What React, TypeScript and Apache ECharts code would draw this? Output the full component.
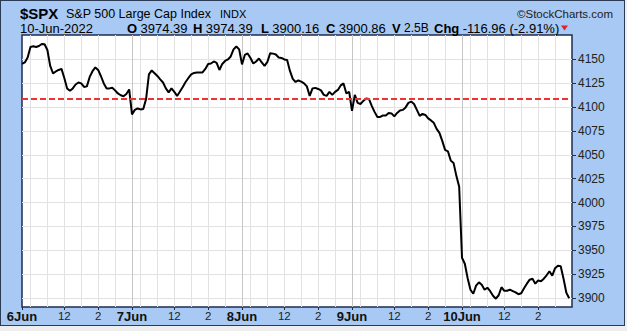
import React, { useEffect, useRef } from "react";
import * as echarts from "echarts";

// ---- data (10-minute closes) ----
const days = ["6Jun", "7Jun", "8Jun", "9Jun", "10Jun"];

const jun6 = [4145.2, 4146.8, 4152.0, 4163.0, 4163.7, 4163.0, 4164.0, 4166.1, 4165.8, 4159.8, 4143.1, 4135.3, 4137.3, 4138.9, 4140.0, 4130.5, 4119.6, 4117.0, 4119.6, 4123.7, 4125.8, 4124.8, 4121.1, 4121.7, 4131.6, 4137.6, 4141.5, 4138.9, 4132.3, 4124.8, 4119.6, 4119.6, 4120.3, 4117.5, 4114.3, 4112.4, 4111.4, 4113.8, 4118.5];
const jun7 = [4092.4, 4097.1, 4098.6, 4097.6, 4098.1, 4108.6, 4134.2, 4138.4, 4135.5, 4132.6, 4129.0, 4125.8, 4119.6, 4115.4, 4119.6, 4115.9, 4111.7, 4116.4, 4121.1, 4126.3, 4130.5, 4134.2, 4135.8, 4136.3, 4136.3, 4136.3, 4140.0, 4145.2, 4145.7, 4147.8, 4146.2, 4138.9, 4145.2, 4148.3, 4149.9, 4153.0, 4160.4, 4163.5, 4160.4];
const jun8 = [4144.7, 4154.6, 4156.2, 4151.5, 4145.7, 4147.8, 4150.9, 4146.8, 4143.1, 4147.3, 4156.5, 4156.0, 4155.1, 4152.0, 4151.5, 4149.9, 4149.4, 4137.9, 4129.5, 4126.3, 4127.9, 4126.7, 4124.8, 4121.7, 4111.7, 4119.6, 4120.1, 4119.0, 4117.5, 4112.8, 4111.7, 4115.9, 4112.8, 4115.9, 4118.0, 4122.7, 4124.8, 4114.3, 4115.9];
const jun9 = [4096.0, 4112.8, 4104.4, 4103.3, 4106.5, 4109.1, 4108.6, 4101.3, 4095.0, 4089.7, 4089.7, 4091.3, 4091.3, 4093.9, 4093.4, 4090.3, 4093.9, 4096.5, 4097.1, 4099.7, 4104.4, 4105.8, 4103.3, 4097.1, 4090.8, 4092.9, 4091.8, 4088.2, 4086.1, 4083.5, 4077.2, 4073.0, 4064.6, 4055.2, 4053.7, 4044.2, 4041.6, 4028.0, 4016.5];
const jun10 = [3942.3, 3936.0, 3920.9, 3908.8, 3904.6, 3913.0, 3916.6, 3914.0, 3908.8, 3910.9, 3907.2, 3902.5, 3899.4, 3903.0, 3911.4, 3907.7, 3907.7, 3908.8, 3907.4, 3906.0, 3904.1, 3905.1, 3910.4, 3915.1, 3919.3, 3920.3, 3915.1, 3918.5, 3917.7, 3920.3, 3923.9, 3928.1, 3923.5, 3931.3, 3933.9, 3933.4, 3920.3, 3905.6, 3899.9];

const yTicks = [3900, 3925, 3950, 3975, 4000, 4025, 4050, 4075, 4100, 4125, 4150];
const prevClose = 4108.54;

const symbol = "$SPX";
const titleName = "S&P 500 Large Cap Index";
const exchange = "INDX";
const credit = "\u00A9StockCharts.com";
const dateText = "10-Jun-2022";
const quote = [
  { k: "O", v: "3974.39", x: 127, size: 13 },
  { k: "H", v: "3974.39", x: 193, size: 13 },
  { k: "L", v: "3900.16", x: 261, size: 13 },
  { k: "C", v: "3900.86", x: 326, size: 13 },
  { k: "V", v: "2.5B", x: 392, size: 12 },
  { k: "Chg", v: "-116.96 (-2.91%)", x: 434, size: 13 },
];

const FONT = '"Liberation Sans", Arial, sans-serif';

function pad(n: number) {
  return n < 10 ? "0" + n : "" + n;
}

// categories: one per 10-minute bar, 9:30 .. 15:50 each day, plus final 16:00
const categories: string[] = [];
days.forEach((d) => {
  for (let k = 0; k < 39; k++) {
    const m = 570 + 10 * k;
    categories.push(d + " " + pad(Math.floor(m / 60)) + ":" + pad(m % 60));
  }
});
categories.push(days[days.length - 1] + " 16:00");

const values: (number | null)[] = [...jun6, ...jun7, ...jun8, ...jun9, ...jun10, null];

function timeOf(v: string) {
  return v.split(" ")[1];
}

export default function App() {
  const ref = useRef<HTMLDivElement>(null);

  useEffect(() => {
    document.body.style.margin = "0";
    if (!ref.current) return;
    const chart = echarts.init(ref.current, null, { renderer: "svg" });

    const labelInterval = (i: number, v: string) => {
      if (i === categories.length - 1) return false;
      const t = timeOf(v);
      return t === "09:30" || t === "12:00" || t === "14:00";
    };
    const hourInterval = (i: number, v: string) => {
      const t = timeOf(v);
      return ["10:00", "11:00", "12:00", "13:00", "14:00", "15:00"].indexOf(t) >= 0;
    };
    const dayInterval = (i: number, v: string) => {
      return i > 0 && i < categories.length - 1 && timeOf(v) === "09:30";
    };

    const wCh = (s: string, size: number) => {
      const w: Record<string, number> = { O: 0.778, H: 0.722, L: 0.611, C: 0.722, V: 0.667, h: 0.611, g: 0.611 };
      let t = 0;
      for (const c of s) t += w[c] || 0.6;
      return t * size;
    };

    const graphic: any[] = [
      { type: "text", x: 20, y: 13, style: { text: symbol, font: "bold 15px " + FONT, fill: "#000", verticalAlign: "middle" } },
      { type: "text", x: 66, y: 14, style: { text: titleName, font: "12.5px " + FONT, fill: "#000", verticalAlign: "middle" } },
      { type: "text", x: 220, y: 14, style: { text: exchange, font: "11px " + FONT, fill: "#000", verticalAlign: "middle" } },
      { type: "text", x: 517, y: 14, style: { text: credit, font: "11.5px " + FONT, fill: "#222", verticalAlign: "middle" } },
      { type: "text", x: 20, y: 28, style: { text: dateText, font: "13px " + FONT, fill: "#000", verticalAlign: "middle" } },
      { type: "polygon", shape: { points: [[561, 25.5], [568, 25.5], [564.5, 30.5]] }, style: { fill: "#e0202a" } },
    ];
    quote.forEach((q) => {
      graphic.push({ type: "text", x: q.x, y: 28, style: { text: q.k, font: "bold 13px " + FONT, fill: "#000", verticalAlign: "middle" } });
      graphic.push({ type: "text", x: q.x + wCh(q.k, 13) + 3.4, y: 28, style: { text: q.v, font: q.size + "px " + FONT, fill: "#000", verticalAlign: "middle" } });
    });

    const option: any = {
      animation: false,
      grid: {
        left: 22,
        right: 55,
        top: 35,
        bottom: 24,
        show: true,
        backgroundColor: "#ffffff",
        borderColor: "#1d2d52",
        borderWidth: 1.5,
      },
      xAxis: [
        {
          type: "category",
          data: categories,
          boundaryGap: false,
          position: "bottom",
          axisLine: { show: false },
          axisTick: { show: true, length: 3, interval: labelInterval, lineStyle: { color: "#1d2d52" } },
          axisLabel: {
            interval: labelInterval,
            margin: 3,
            formatter: (v: string) => {
              const [d, t] = v.split(" ");
              if (t === "09:30") return "{d|" + d + "}";
              if (t === "12:00") return "{h|12}";
              if (t === "14:00") return "{h|2}";
              return "";
            },
            rich: {
              d: { fontFamily: FONT, fontWeight: "bold", fontSize: 13, color: "#111" },
              h: { fontFamily: FONT, fontSize: 11.5, color: "#222" },
            },
          },
          splitLine: { show: true, interval: hourInterval, lineStyle: { color: "#e2e2e2", width: 1 } },
        },
        {
          type: "category",
          data: categories,
          boundaryGap: false,
          position: "top",
          axisLine: { show: false },
          axisTick: { show: false },
          axisLabel: { show: false },
          splitLine: { show: true, interval: dayInterval, lineStyle: { color: "#c6c6c6", width: 1 } },
        },
      ],
      yAxis: {
        type: "value",
        position: "right",
        min: 3890.7,
        max: 4175.5,
        axisLine: { show: false },
        axisTick: { show: true, length: 4, customValues: yTicks, lineStyle: { color: "#1d2d52" } },
        axisLabel: {
          customValues: yTicks,
          margin: 6,
          fontSize: 12,
          fontFamily: FONT,
          color: "#222",
          formatter: (v: number) => String(v),
        },
        splitLine: { show: true, lineStyle: { color: "#e2e2e2", width: 1 } },
      },
      series: [
        {
          type: "line",
          data: values,
          xAxisIndex: 0,
          symbol: "none",
          connectNulls: false,
          lineStyle: { color: "#000", width: 2 },
          markLine: {
            silent: true,
            symbol: ["none", "none"],
            label: { show: false },
            lineStyle: { color: "#ec3434", type: [6, 3], width: 2 },
            data: [{ yAxis: prevClose }],
          },
        },
      ],
      graphic,
    };
    chart.setOption(option);
    return () => chart.dispose();
  }, []);

  return (
    <div style={{ position: "relative", width: 627, height: 331, background: "#eeeeee" }}>
      <div
        style={{
          position: "absolute",
          left: 0,
          top: 0,
          width: 625,
          height: 326,
          boxSizing: "border-box",
          border: "1.5px solid #2b3a55",
          background: "#a8c9f3",
        }}
      />
      <div ref={ref} style={{ position: "absolute", left: 0, top: 0, width: 627, height: 331 }} />
    </div>
  );
}
